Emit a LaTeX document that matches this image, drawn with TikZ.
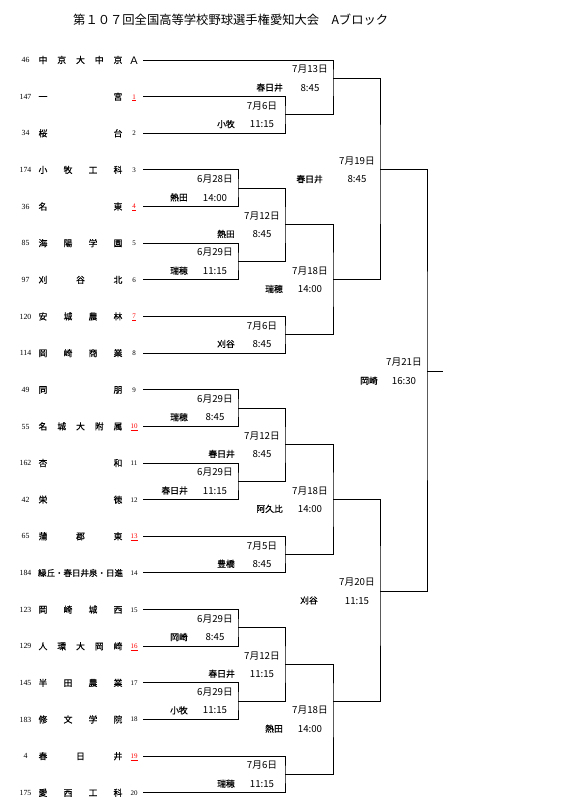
\documentclass[tikz,border=0pt]{standalone}
\usepackage{fontspec}
\newfontfamily\jp{Noto Sans CJK JP}
\newfontfamily\jpb[FakeBold=0.5]{Noto Sans CJK JP}
\newfontfamily\sr{Liberation Serif}
\newfontfamily\lsans{Liberation Sans}
\tikzset{
  declare function={yk(\k)=60+18.32*\k;},
  lbl/.style={inner sep=0pt, anchor=base},
  lnum/.style={lbl, font=\sr\fontsize{7.8}{8}\selectfont, yshift=-2.6pt},
  nm/.style={lbl, font=\jpb\fontsize{8.8}{9}\selectfont, yshift=-3.3pt},
  seed/.style={lbl, font=\sr\fontsize{7}{8}\selectfont, yshift=-2.4pt},
  dt/.style={lbl, font=\jp\fontsize{9.7}{10}\selectfont, yshift=-3.6pt},
  tmm/.style={lbl, font=\jp\fontsize{9.7}{10}\selectfont, yshift=-3.6pt},
  vn/.style={inner sep=0pt, anchor=base east, font=\jpb\fontsize{8.8}{9}\selectfont, yshift=-3.3pt},
  ttl/.style={inner sep=0pt, anchor=base west, font=\jp\fontsize{12.3}{14}\selectfont},
  br/.style={line width=1pt, line cap=rect}
}
% team row: #1 row, #2 left number, #3 chars, #4 count, #5 seed
\newcommand\tmrow[5]{%
  \coordinate (t#1) at (143,{yk(2*#1)});
  \node[lnum] (ln#1) at (25.5,{yk(2*#1)}) {#2};
  \foreach \tch [count=\j] in {#3} {\node[nm] (nm#1-\j) at ({43+(\j-1)*75/(#4-1)},{yk(2*#1)}) {\tch};}
  \node[seed] (sd#1) at (134,{yk(2*#1)}) {#5};
}
\newcommand\rd[1]{\textcolor{red}{\underline{#1}}}
% match: #1 name, #2 column x, #3 output k, #4 label k, #5 date, #6 venue, #7 time, #8 venue right x
\newcommand\mtch[8]{%
  \coordinate (#1) at (#2,{yk(#3)});
  \node[dt] (#1d) at ({#2-23},{yk(#4-0.5)}) {#5};
  \node[vn] (#1v) at (#8,{yk(#4+0.5)}) {#6};
  \node[tmm] (#1t) at ({#2-23},{yk(#4+0.5)}) {#7};
}
\begin{document}
\begin{tikzpicture}[x=1pt,y=-1pt]
\useasboundingbox (0,0) rectangle (588,803);
\node[ttl] (title) at (73,24.5) {第１０７回全国高等学校野球選手権愛知大会　Aブロック};

% teams
\coordinate (t0) at (143,{yk(0)});
\node[lnum] (ln0) at (25.5,{yk(0)}) {46};
\foreach \tch [count=\j] in {中,京,大,中,京} {\node[nm] (nm0-\j) at ({43+(\j-1)*75/4},{yk(0)}) {\tch};}
\node[lbl, font=\lsans\fontsize{11}{12}\selectfont, yshift=-4pt] (sd0) at (134,{yk(0)}) {A};
\tmrow{1}{147}{一,宮}{2}{\rd{1}}
\tmrow{2}{34}{桜,台}{2}{2}
\tmrow{3}{174}{小,牧,工,科}{4}{3}
\tmrow{4}{36}{名,東}{2}{\rd{4}}
\tmrow{5}{85}{海,陽,学,園}{4}{5}
\tmrow{6}{97}{刈,谷,北}{3}{6}
\tmrow{7}{120}{安,城,農,林}{4}{\rd{7}}
\tmrow{8}{114}{岡,崎,商,業}{4}{8}
\tmrow{9}{49}{同,朋}{2}{9}
\tmrow{10}{55}{名,城,大,附,属}{5}{\rd{10}}
\tmrow{11}{162}{杏,和}{2}{11}
\tmrow{12}{42}{栄,徳}{2}{12}
\tmrow{13}{65}{蒲,郡,東}{3}{\rd{13}}
\coordinate (t14) at (143,{yk(28)});
\node[lnum] (ln14) at (25.5,{yk(28)}) {184};
\node[lbl, font=\jpb\fontsize{8.5}{9}\selectfont, yshift=-3.2pt] (nm14) at (80.5,{yk(28)}) {緑丘・春日井泉・日進};
\node[seed] (sd14) at (134,{yk(28)}) {14};
\tmrow{15}{123}{岡,崎,城,西}{4}{15}
\tmrow{16}{129}{人,環,大,岡,崎}{5}{\rd{16}}
\tmrow{17}{145}{半,田,農,業}{4}{17}
\tmrow{18}{183}{修,文,学,院}{4}{18}
\tmrow{19}{4}{春,日,井}{3}{\rd{19}}
\tmrow{20}{175}{愛,西,工,科}{4}{20}

% matches
\mtch{mA}{285}{3}{3}{7月6日}{小牧}{11:15}{235}
\mtch{mB}{333}{1}{1}{7月13日}{春日井}{8:45}{283}
\mtch{mC}{238}{7}{7}{6月28日}{熱田}{14:00}{188}
\mtch{mD}{238}{11}{11}{6月29日}{瑞穂}{11:15}{188}
\mtch{mE}{285}{9}{9}{7月12日}{熱田}{8:45}{235}
\mtch{mF}{285}{15}{15}{7月6日}{刈谷}{8:45}{235}
\mtch{mG}{333}{12}{12}{7月18日}{瑞穂}{14:00}{283}
\mtch{mH}{380}{6}{6}{7月19日}{春日井}{8:45}{323}
\mtch{mI}{238}{19}{19}{6月29日}{瑞穂}{8:45}{188}
\mtch{mJ}{238}{23}{23}{6月29日}{春日井}{11:15}{188}
\mtch{mK}{285}{21}{21}{7月12日}{春日井}{8:45}{235}
\mtch{mL}{285}{27}{27}{7月5日}{豊橋}{8:45}{235}
\mtch{mM}{333}{24}{24}{7月18日}{阿久比}{14:00}{283}
\mtch{mN}{238}{31}{31}{6月29日}{岡崎}{8:45}{188}
\mtch{mO}{238}{35}{35}{6月29日}{小牧}{11:15}{188}
\mtch{mP}{285}{33}{33}{7月12日}{春日井}{11:15}{235}
\mtch{mQ}{285}{39}{39}{7月6日}{瑞穂}{11:15}{235}
\mtch{mR}{333}{35}{36}{7月18日}{熱田}{14:00}{283}
\mtch{mS}{380}{29}{29}{7月20日}{刈谷}{11:15}{318}
\mtch{mT}{427}{17}{17}{7月21日}{岡崎}{16:30}{378}
\coordinate (fin) at (442,{yk(17)});

% bracket lines
\draw[br] (t1) -| (mA) |- (t2);
\draw[br] (t0) -| (mB) |- (mA);
\draw[br] (t3) -| (mC) |- (t4);
\draw[br] (t5) -| (mD) |- (t6);
\draw[br] (mC) -| (mE) |- (mD);
\draw[br] (t7) -| (mF) |- (t8);
\draw[br] (mE) -| (mG) |- (mF);
\draw[br] (mB) -| (mH) |- (mG);
\draw[br] (t9) -| (mI) |- (t10);
\draw[br] (t11) -| (mJ) |- (t12);
\draw[br] (mI) -| (mK) |- (mJ);
\draw[br] (t13) -| (mL) |- (t14);
\draw[br] (mK) -| (mM) |- (mL);
\draw[br] (t15) -| (mN) |- (t16);
\draw[br] (t17) -| (mO) |- (t18);
\draw[br] (mN) -| (mP) |- (mO);
\draw[br] (t19) -| (mQ) |- (t20);
\draw[br] (mP) -| (mR) |- (mQ);
\draw[br] (mM) -| (mS) |- (mR);
\draw[br] (mH) -| (mT) |- (mS);
\draw[br] (mT) -- (fin);
\end{tikzpicture}
\end{document}
